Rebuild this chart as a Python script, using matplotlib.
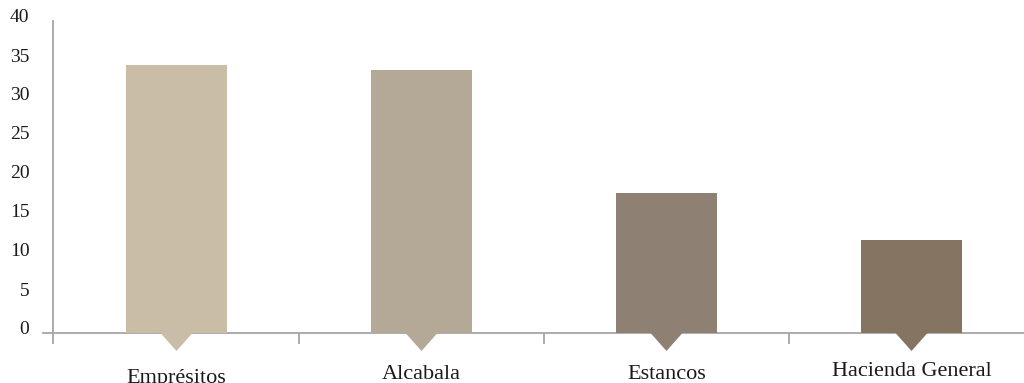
import matplotlib.pyplot as plt
from matplotlib.transforms import ScaledTranslation

# data
categories = ["Emprésitos", "Alcabala", "Estancos", "Hacienda General"]
values = [34.4, 33.7, 18.0, 11.9]
yticks = [0, 5, 10, 15, 20, 25, 30, 35, 40]

# styles
colors = ["#C9BDA8", "#B4A897", "#8E8072", "#857462"]
label_drop = [36, 33, 33, 31]  # points below the axis for each label baseline
axis_color = "#A6A6A6"

plt.rcParams["font.family"] = ["Liberation Serif", "DejaVu Serif"]

fig = plt.figure(figsize=(10.24, 3.83), dpi=100)
ax = fig.add_axes([53 / 1024, 50 / 383, 971 / 1024, 312 / 383])

x = list(range(len(categories)))
ax.bar(x, values, width=0.412, color=colors, zorder=2)

# little pointers under each bar
pw = 16 / 245
ph = 18 / 7.8
for xi, c in zip(x, colors):
    ax.fill([xi - pw, xi + pw, xi], [0, 0, -ph], color=c, clip_on=False, zorder=2, lw=0)

left = -123.5 / 245
ax.set_xlim(left, left + 971 / 245)
ax.set_ylim(0, 40)

for s in ["top", "right", "bottom"]:
    ax.spines[s].set_visible(False)
ax.spines["left"].set_color(axis_color)
ax.spines["left"].set_linewidth(1.3)

# horizontal axis line (extends a little left of the y axis)
ax.plot([left - 10 / 245, 3.7], [0, 0], color=axis_color, lw=1.3, clip_on=False, zorder=1)

# category boundary ticks
ax.set_xticks([left, 0.5, 1.5, 2.5])
ax.set_xticklabels([])
ax.tick_params(axis="x", direction="out", length=8, width=1.3, color=axis_color)

for xi, name, d in zip(x, categories, label_drop):
    ax.annotate(name, xy=(xi, 0), xytext=(0, -d), textcoords="offset points",
                ha="center", va="baseline", fontsize=16, color="#1a1a1a",
                annotation_clip=False)

ax.set_yticks(yticks)
ax.tick_params(axis="y", length=0, pad=17, labelsize=14, labelcolor="#1a1a1a")
shift = ScaledTranslation(0, 5 / 100, fig.dpi_scale_trans)
for lab in ax.get_yticklabels():
    lab.set_transform(lab.get_transform() + shift)

fig.savefig("out.png", dpi=100)
